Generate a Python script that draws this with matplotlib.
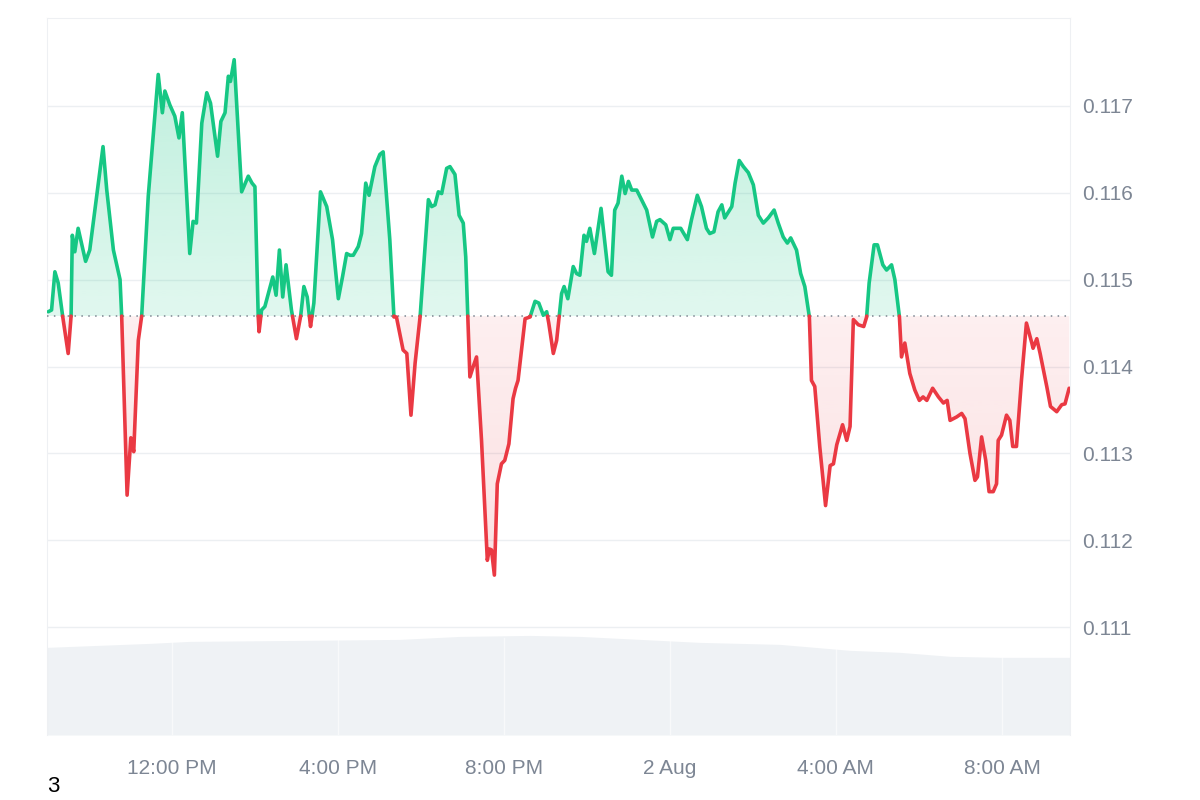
import matplotlib
matplotlib.use("Agg")
import matplotlib.pyplot as plt
import numpy as np
from matplotlib.path import Path
from matplotlib.colors import to_rgb

plt.rcParams['font.family'] = ['Liberation Sans', 'DejaVu Sans']

# time in hours since 00:00 on 1 Aug, price in USD
times = [9.02, 9.10, 9.18, 9.26, 9.37, 9.50, 9.57, 9.60, 9.66, 9.74, 9.92, 10.02, 10.34, 10.43, 10.59,
         10.75, 10.79, 10.92, 11.01, 11.08, 11.19, 11.27, 11.43, 11.67, 11.77, 11.83, 11.95, 12.07, 12.17,
         12.25, 12.43, 12.51, 12.59, 12.72, 12.84, 12.93, 13.10, 13.18, 13.28, 13.36, 13.41, 13.50, 13.68,
         13.84, 13.93, 14.00, 14.08, 14.10, 14.16, 14.24, 14.43, 14.51, 14.59, 14.67, 14.75, 14.88, 15.00,
         15.10, 15.18, 15.26, 15.34, 15.42, 15.58, 15.73, 15.87, 16.01, 16.11, 16.21, 16.29, 16.37, 16.49,
         16.57, 16.67, 16.75, 16.89, 17.01, 17.09, 17.25, 17.35, 17.41, 17.57, 17.66, 17.76, 17.86, 17.98,
         18.18, 18.26, 18.34, 18.42, 18.50, 18.62, 18.70, 18.82, 18.92, 19.02, 19.08, 19.13, 19.18, 19.26,
         19.34, 19.46, 19.60, 19.65, 19.70, 19.77, 19.84, 19.94, 20.02, 20.12, 20.22, 20.28, 20.34, 20.51,
         20.63, 20.75, 20.84, 20.95, 21.03, 21.08, 21.19, 21.27, 21.33, 21.39, 21.45, 21.54, 21.67, 21.75,
         21.83, 21.93, 21.99, 22.07, 22.18, 22.34, 22.51, 22.59, 22.67, 22.75, 22.84, 22.92, 23.00, 23.08,
         23.20, 23.44, 23.58, 23.68, 23.76, 23.90, 24.00, 24.08, 24.26, 24.42, 24.52, 24.66, 24.76, 24.88,
         24.96, 25.06, 25.16, 25.25, 25.32, 25.49, 25.57, 25.67, 25.77, 25.89, 26.01, 26.13, 26.25, 26.37,
         26.51, 26.61, 26.73, 26.83, 26.91, 27.05, 27.15, 27.25, 27.36, 27.41, 27.49, 27.61, 27.75, 27.86,
         27.94, 28.02, 28.16, 28.26, 28.34, 28.42, 28.54, 28.67, 28.74, 28.80, 28.92, 29.00, 29.13, 29.22,
         29.34, 29.42, 29.53, 29.58, 29.66, 29.78, 29.90, 30.01, 30.10, 30.19, 30.33, 30.47, 30.59, 30.68,
         30.75, 30.91, 31.03, 31.11, 31.23, 31.35, 31.41, 31.51, 31.61, 31.69, 31.79, 31.87, 31.91, 31.99,
         32.11, 32.19, 32.26, 32.35, 32.47, 32.59, 32.72, 32.75, 32.84, 32.92, 33.08, 33.17, 33.32, 33.44,
         33.52, 33.62]
prices = [0.11463, 0.11465, 0.11509, 0.11496, 0.11457, 0.11415, 0.11457, 0.11551, 0.11532, 0.11559, 0.11521,
          0.11534, 0.11653, 0.11603, 0.11534, 0.11500, 0.11457, 0.11252, 0.11318, 0.11302, 0.11430, 0.11457,
          0.11596, 0.11736, 0.11692, 0.11717, 0.11701, 0.11688, 0.11663, 0.11692, 0.11530, 0.11567, 0.11565,
          0.11680, 0.11715, 0.11703, 0.11642, 0.11682, 0.11692, 0.11734, 0.11728, 0.11753, 0.11601, 0.11619,
          0.11611, 0.11607, 0.11457, 0.11440, 0.11465, 0.11469, 0.11503, 0.11482, 0.11534, 0.11480, 0.11517,
          0.11465, 0.11432, 0.11457, 0.11492, 0.11480, 0.11446, 0.11473, 0.11601, 0.11584, 0.11546, 0.11478,
          0.11503, 0.11530, 0.11528, 0.11528, 0.11538, 0.11553, 0.11611, 0.11597, 0.11630, 0.11644, 0.11647,
          0.11546, 0.11457, 0.11457, 0.11419, 0.11415, 0.11344, 0.11404, 0.11457, 0.11592, 0.11584, 0.11586,
          0.11601, 0.11599, 0.11628, 0.11630, 0.11621, 0.11574, 0.11565, 0.11526, 0.11457, 0.11388, 0.11400,
          0.11411, 0.11315, 0.11177, 0.11190, 0.11189, 0.11160, 0.11265, 0.11288, 0.11292, 0.11311, 0.11363,
          0.11375, 0.11384, 0.11455, 0.11457, 0.11475, 0.11473, 0.11459, 0.11463, 0.11450, 0.11415, 0.11430,
          0.11457, 0.11484, 0.11492, 0.11478, 0.11515, 0.11507, 0.11505, 0.11551, 0.11544, 0.11559, 0.11530,
          0.11582, 0.11509, 0.11505, 0.11580, 0.11588, 0.11619, 0.11599, 0.11613, 0.11603, 0.11603, 0.11580,
          0.11549, 0.11567, 0.11569, 0.11563, 0.11546, 0.11559, 0.11559, 0.11546, 0.11569, 0.11597, 0.11584,
          0.11559, 0.11553, 0.11555, 0.11578, 0.11586, 0.11571, 0.11584, 0.11611, 0.11637, 0.11630, 0.11623,
          0.11609, 0.11574, 0.11565, 0.11571, 0.11580, 0.11565, 0.11549, 0.11542, 0.11548, 0.11534, 0.11507,
          0.11492, 0.11457, 0.11384, 0.11377, 0.11308, 0.11240, 0.11286, 0.11288, 0.11310, 0.11333, 0.11315,
          0.11331, 0.11454, 0.11448, 0.11446, 0.11457, 0.11496, 0.11540, 0.11540, 0.11517, 0.11511, 0.11517,
          0.11500, 0.11457, 0.11411, 0.11427, 0.11392, 0.11373, 0.11361, 0.11365, 0.11361, 0.11375, 0.11365,
          0.11358, 0.11361, 0.11338, 0.11342, 0.11346, 0.11340, 0.11300, 0.11269, 0.11273, 0.11319, 0.11292,
          0.11256, 0.11256, 0.11265, 0.11315, 0.11321, 0.11344, 0.11338, 0.11308, 0.11308, 0.11384, 0.11450,
          0.11427, 0.11421, 0.11432, 0.11415, 0.11377, 0.11354, 0.11348, 0.11356, 0.11357, 0.11375]
base_price = 0.11458  # price 24h ago (dotted line)

# 24h volume (arbitrary units) drawn as the grey band at the bottom
vol_times = [8.99, 11.47, 12.43, 15.08, 17.49, 18.94, 20.63, 21.83, 23.28, 24.72, 26.65, 28.34, 29.54,
             30.75, 31.95, 33.64]
volume = [88, 92, 94, 95, 96, 99, 100, 99, 96, 93, 91, 85, 83, 79, 78, 78]

tick_pos = [12, 16, 20, 24, 28, 32]
tick_labels = ['12:00 PM', '4:00 PM', '8:00 PM', '2 Aug', '4:00 AM', '8:00 AM']
y_ticks = [0.111, 0.112, 0.113, 0.114, 0.115, 0.116, 0.117]

GREEN = '#16c784'
RED = '#ea3943'
GREY_TXT = '#7d8694'
XLIM = (8.99, 33.64)
YLIM = (0.10976, 0.11801)

fig = plt.figure(figsize=(12, 8), dpi=100)
pos = [47 / 1200, 65 / 800, 1023 / 1200, 717 / 800]

# volume axes, drawn behind the price axes
axv = fig.add_axes(pos, zorder=0)
axv.fill_between(vol_times, volume, 0, color='#eff2f5', lw=0)
axv.set_xlim(*XLIM)
axv.set_ylim(0, max(volume) * 7.2)
axv.axis('off')

ax = fig.add_axes(pos, zorder=1)
ax.patch.set_alpha(0)

t = np.array(times)
p = np.array(prices)

# insert crossing points so the colour switches exactly at the base line
tt, pp = [t[0]], [p[0]]
for i in range(1, len(t)):
    d0, d1 = p[i - 1] - base_price, p[i] - base_price
    if d0 * d1 < 0:
        tt.append(t[i - 1] + (t[i] - t[i - 1]) * d0 / (d0 - d1))
        pp.append(base_price)
    tt.append(t[i])
    pp.append(p[i])
tt, pp = np.array(tt), np.array(pp)


def grad_fill(where, color, a_near, a_far, lo, hi, near_top):
    poly = ax.fill_between(tt, pp, base_price, where=where, interpolate=True,
                           facecolor='none', edgecolor='none')
    path = Path.make_compound_path(*poly.get_paths())
    poly.remove()
    img = np.zeros((256, 1, 4))
    img[:, :, :3] = to_rgb(color)
    a = np.linspace(a_far, a_near, 256) if near_top else np.linspace(a_near, a_far, 256)
    img[:, 0, 3] = a
    im = ax.imshow(img, extent=[XLIM[0], XLIM[1], lo, hi], origin='lower',
                   aspect='auto', zorder=2, interpolation='bilinear')
    im.set_clip_path(path, transform=ax.transData)


grad_fill(pp >= base_price, GREEN, 0.13, 0.28, base_price, pp.max(), near_top=False)
grad_fill(pp <= base_price, RED, 0.08, 0.16, pp.min(), base_price, near_top=True)

up = np.where(pp >= base_price, pp, np.nan)
dn = np.where(pp <= base_price, pp, np.nan)
ax.plot(tt, up, color=GREEN, lw=2.6, zorder=4, solid_joinstyle='round', solid_capstyle='round')
ax.plot(tt, dn, color=RED, lw=2.6, zorder=4, solid_joinstyle='round', solid_capstyle='round')
ax.axhline(base_price, color='#7c8591', lw=1.1, ls=(0, (1, 3.5)), zorder=3)

# grid
for y in y_ticks:
    ax.axhline(y, color='#eceff2', lw=1, zorder=1)
for x in tick_pos:
    ax.axvline(x, ymin=0, ymax=0.135, color='white', lw=1, alpha=0.6, zorder=1)

ax.set_xlim(*XLIM)
ax.set_ylim(*YLIM)
ax.set_xticks(tick_pos)
ax.set_xticklabels(tick_labels)
ax.set_yticks(y_ticks)
ax.set_yticklabels([f'{v:.3f}' for v in y_ticks])
ax.yaxis.tick_right()
ax.tick_params(axis='both', length=0, labelsize=15, labelcolor=GREY_TXT)
ax.tick_params(axis='x', pad=17)
ax.tick_params(axis='y', pad=9)
for side in ['top', 'left', 'right']:
    ax.spines[side].set_color('#eef0f3')
ax.spines['bottom'].set_visible(False)

fig.text(47 / 1200, 3 / 800, '3', fontsize=16, color='black', ha='left', va='bottom')

fig.savefig('out.png', dpi=100)
